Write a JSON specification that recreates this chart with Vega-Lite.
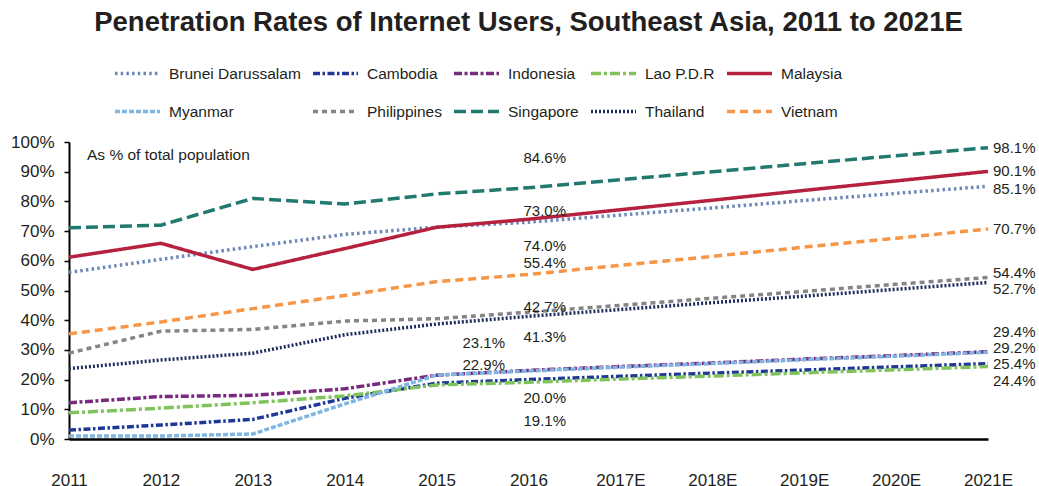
{
  "$schema": "https://vega.github.io/schema/vega-lite/v6.json",
  "width": 919,
  "height": 297,
  "autosize": {"type": "none"},
  "padding": {"left": 69, "top": 142, "right": 51, "bottom": 47},
  "background": "white",
  "title": {
    "text": "Penetration Rates of Internet Users, Southeast Asia, 2011 to 2021E",
    "fontSize": 27.5,
    "fontWeight": "bold",
    "font": "Liberation Sans",
    "color": "#231f20",
    "anchor": "middle",
    "frame": "group",
    "offset": 13
  },
  "config": {
    "font": "Liberation Sans",
    "view": {"stroke": null},
    "text": {"font": "Liberation Sans"}
  },
  "data": {
    "values": [
      {"country": "Brunei Darussalam", "year": "2011", "value": 56.1},
      {"country": "Brunei Darussalam", "year": "2012", "value": 60.5},
      {"country": "Brunei Darussalam", "year": "2013", "value": 64.8},
      {"country": "Brunei Darussalam", "year": "2014", "value": 68.9},
      {"country": "Brunei Darussalam", "year": "2015", "value": 71.3},
      {"country": "Brunei Darussalam", "year": "2016", "value": 73.0},
      {"country": "Brunei Darussalam", "year": "2017E", "value": 75.4},
      {"country": "Brunei Darussalam", "year": "2018E", "value": 77.8},
      {"country": "Brunei Darussalam", "year": "2019E", "value": 80.3},
      {"country": "Brunei Darussalam", "year": "2020E", "value": 82.7},
      {"country": "Brunei Darussalam", "year": "2021E", "value": 85.1},
      {"country": "Cambodia", "year": "2011", "value": 3.0},
      {"country": "Cambodia", "year": "2012", "value": 4.7},
      {"country": "Cambodia", "year": "2013", "value": 6.6},
      {"country": "Cambodia", "year": "2014", "value": 13.7},
      {"country": "Cambodia", "year": "2015", "value": 18.8},
      {"country": "Cambodia", "year": "2016", "value": 20.0},
      {"country": "Cambodia", "year": "2017E", "value": 21.1},
      {"country": "Cambodia", "year": "2018E", "value": 22.2},
      {"country": "Cambodia", "year": "2019E", "value": 23.2},
      {"country": "Cambodia", "year": "2020E", "value": 24.3},
      {"country": "Cambodia", "year": "2021E", "value": 25.4},
      {"country": "Indonesia", "year": "2011", "value": 12.2},
      {"country": "Indonesia", "year": "2012", "value": 14.3},
      {"country": "Indonesia", "year": "2013", "value": 14.7},
      {"country": "Indonesia", "year": "2014", "value": 16.9},
      {"country": "Indonesia", "year": "2015", "value": 21.5},
      {"country": "Indonesia", "year": "2016", "value": 23.1},
      {"country": "Indonesia", "year": "2017E", "value": 24.4},
      {"country": "Indonesia", "year": "2018E", "value": 25.6},
      {"country": "Indonesia", "year": "2019E", "value": 26.9},
      {"country": "Indonesia", "year": "2020E", "value": 28.1},
      {"country": "Indonesia", "year": "2021E", "value": 29.4},
      {"country": "Lao P.D.R", "year": "2011", "value": 8.8},
      {"country": "Lao P.D.R", "year": "2012", "value": 10.4},
      {"country": "Lao P.D.R", "year": "2013", "value": 12.2},
      {"country": "Lao P.D.R", "year": "2014", "value": 14.5},
      {"country": "Lao P.D.R", "year": "2015", "value": 18.2},
      {"country": "Lao P.D.R", "year": "2016", "value": 19.1},
      {"country": "Lao P.D.R", "year": "2017E", "value": 20.2},
      {"country": "Lao P.D.R", "year": "2018E", "value": 21.2},
      {"country": "Lao P.D.R", "year": "2019E", "value": 22.3},
      {"country": "Lao P.D.R", "year": "2020E", "value": 23.3},
      {"country": "Lao P.D.R", "year": "2021E", "value": 24.4},
      {"country": "Malaysia", "year": "2011", "value": 61.2},
      {"country": "Malaysia", "year": "2012", "value": 65.9},
      {"country": "Malaysia", "year": "2013", "value": 57.1},
      {"country": "Malaysia", "year": "2014", "value": 64.1},
      {"country": "Malaysia", "year": "2015", "value": 71.3},
      {"country": "Malaysia", "year": "2016", "value": 74.0},
      {"country": "Malaysia", "year": "2017E", "value": 77.2},
      {"country": "Malaysia", "year": "2018E", "value": 80.4},
      {"country": "Malaysia", "year": "2019E", "value": 83.7},
      {"country": "Malaysia", "year": "2020E", "value": 86.9},
      {"country": "Malaysia", "year": "2021E", "value": 90.1},
      {"country": "Myanmar", "year": "2011", "value": 1.0},
      {"country": "Myanmar", "year": "2012", "value": 1.0},
      {"country": "Myanmar", "year": "2013", "value": 1.7},
      {"country": "Myanmar", "year": "2014", "value": 11.8},
      {"country": "Myanmar", "year": "2015", "value": 21.5},
      {"country": "Myanmar", "year": "2016", "value": 22.9},
      {"country": "Myanmar", "year": "2017E", "value": 24.2},
      {"country": "Myanmar", "year": "2018E", "value": 25.4},
      {"country": "Myanmar", "year": "2019E", "value": 26.7},
      {"country": "Myanmar", "year": "2020E", "value": 27.9},
      {"country": "Myanmar", "year": "2021E", "value": 29.2},
      {"country": "Philippines", "year": "2011", "value": 28.9},
      {"country": "Philippines", "year": "2012", "value": 36.3},
      {"country": "Philippines", "year": "2013", "value": 36.9},
      {"country": "Philippines", "year": "2014", "value": 39.7},
      {"country": "Philippines", "year": "2015", "value": 40.5},
      {"country": "Philippines", "year": "2016", "value": 42.7},
      {"country": "Philippines", "year": "2017E", "value": 45.0},
      {"country": "Philippines", "year": "2018E", "value": 47.4},
      {"country": "Philippines", "year": "2019E", "value": 49.7},
      {"country": "Philippines", "year": "2020E", "value": 52.1},
      {"country": "Philippines", "year": "2021E", "value": 54.4},
      {"country": "Singapore", "year": "2011", "value": 71.1},
      {"country": "Singapore", "year": "2012", "value": 72.0},
      {"country": "Singapore", "year": "2013", "value": 81.0},
      {"country": "Singapore", "year": "2014", "value": 79.1},
      {"country": "Singapore", "year": "2015", "value": 82.5},
      {"country": "Singapore", "year": "2016", "value": 84.6},
      {"country": "Singapore", "year": "2017E", "value": 87.3},
      {"country": "Singapore", "year": "2018E", "value": 90.0},
      {"country": "Singapore", "year": "2019E", "value": 92.7},
      {"country": "Singapore", "year": "2020E", "value": 95.4},
      {"country": "Singapore", "year": "2021E", "value": 98.1},
      {"country": "Thailand", "year": "2011", "value": 23.7},
      {"country": "Thailand", "year": "2012", "value": 26.6},
      {"country": "Thailand", "year": "2013", "value": 28.9},
      {"country": "Thailand", "year": "2014", "value": 35.1},
      {"country": "Thailand", "year": "2015", "value": 38.7},
      {"country": "Thailand", "year": "2016", "value": 41.3},
      {"country": "Thailand", "year": "2017E", "value": 43.6},
      {"country": "Thailand", "year": "2018E", "value": 45.9},
      {"country": "Thailand", "year": "2019E", "value": 48.1},
      {"country": "Thailand", "year": "2020E", "value": 50.4},
      {"country": "Thailand", "year": "2021E", "value": 52.7},
      {"country": "Vietnam", "year": "2011", "value": 35.4},
      {"country": "Vietnam", "year": "2012", "value": 39.4},
      {"country": "Vietnam", "year": "2013", "value": 43.9},
      {"country": "Vietnam", "year": "2014", "value": 48.3},
      {"country": "Vietnam", "year": "2015", "value": 53.0},
      {"country": "Vietnam", "year": "2016", "value": 55.4},
      {"country": "Vietnam", "year": "2017E", "value": 58.5},
      {"country": "Vietnam", "year": "2018E", "value": 61.5},
      {"country": "Vietnam", "year": "2019E", "value": 64.6},
      {"country": "Vietnam", "year": "2020E", "value": 67.6},
      {"country": "Vietnam", "year": "2021E", "value": 70.7}
    ]
  },
  "encoding": {
    "x": {
      "field": "year",
      "type": "ordinal",
      "scale": {"type": "point", "padding": 0},
      "axis": {
        "title": null,
        "labelAngle": 0,
        "ticks": false,
        "domainColor": "#000000",
        "domainWidth": 2.5,
        "labelFontSize": 17,
        "labelColor": "#231f20",
        "labelPadding": 33,
        "labelFont": "Liberation Sans"
      }
    },
    "y": {
      "field": "value",
      "type": "quantitative",
      "scale": {"domain": [0, 100], "nice": false, "zero": true},
      "axis": {
        "title": null,
        "values": [0, 10, 20, 30, 40, 50, 60, 70, 80, 90, 100],
        "labelExpr": "datum.value + '%'",
        "grid": false,
        "domainColor": "#000000",
        "domainWidth": 2,
        "tickColor": "#000000",
        "tickSize": 5,
        "tickWidth": 1.5,
        "labelFontSize": 17,
        "labelColor": "#231f20",
        "labelPadding": 10,
        "labelFont": "Liberation Sans"
      }
    }
  },
  "layer": [
    {
      "mark": {"type": "line", "strokeWidth": 3.5, "strokeCap": "butt"},
      "encoding": {
        "color": {
          "field": "country",
          "type": "nominal",
          "scale": {
            "domain": ["Brunei Darussalam", "Cambodia", "Indonesia", "Lao P.D.R", "Malaysia", "Myanmar", "Philippines", "Singapore", "Thailand", "Vietnam"],
            "range": ["#6b88b8", "#1f3897", "#7a2a7c", "#7fc35b", "#b5213f", "#7fb5e3", "#858585", "#22796f", "#1c2d5c", "#f79646"]
          },
          "legend": {
            "title": null,
            "orient": "none",
            "legendX": 44,
            "legendY": -93,
            "direction": "horizontal",
            "columns": 5,
            "symbolType": "stroke",
            "symbolSize": 2025,
            "symbolStrokeWidth": 3.5,
            "labelFontSize": 15.5,
            "labelColor": "#231f20",
            "labelOffset": 7,
            "columnPadding": 5,
            "rowPadding": 5,
            "labelFont": "Liberation Sans"
          }
        },
        "strokeDash": {
          "field": "country",
          "type": "nominal",
          "scale": {
            "domain": ["Brunei Darussalam", "Cambodia", "Indonesia", "Lao P.D.R", "Malaysia", "Myanmar", "Philippines", "Singapore", "Thailand", "Vietnam"],
            "range": [[2.5, 3.2], [7, 2.5, 2.5, 2.5], [8, 2.5, 3, 2.5], [10, 3, 3, 3], [1, 0], [5, 2], [5, 4], [12, 5], [2, 2], [8, 5]]
          },
          "legend": {
            "title": null,
            "orient": "none",
            "legendX": 44,
            "legendY": -93,
            "direction": "horizontal",
            "columns": 5,
            "symbolType": "stroke",
            "symbolSize": 2025,
            "symbolStrokeWidth": 3.5,
            "labelFontSize": 15.5,
            "labelColor": "#231f20",
            "labelOffset": 7,
            "columnPadding": 5,
            "rowPadding": 5,
            "labelFont": "Liberation Sans"
          }
        }
      }
    },
    {
      "transform": [{"filter": "datum.year == '2011' && datum.country == 'Brunei Darussalam'"}],
      "mark": {"type": "text", "align": "left", "baseline": "middle", "dx": 18, "dy": 13, "fontSize": 15.5, "color": "#231f20"},
      "encoding": {
        "y": {"datum": 100},
        "text": {"value": "As % of total population"}
      }
    },
    {
      "transform": [{"filter": "datum.year == '2016' && datum.country == 'Singapore'"}, {"calculate": "format(datum.value, '.1f') + '%'", "as": "label"}],
      "mark": {"type": "text", "align": "left", "baseline": "middle", "dx": -5, "dy": -30, "fontSize": 15, "color": "#231f20"},
      "encoding": {"text": {"field": "label"}}
    },
    {
      "transform": [{"filter": "datum.year == '2016' && (datum.country == 'Brunei Darussalam' || datum.country == 'Vietnam')"}, {"calculate": "format(datum.value, '.1f') + '%'", "as": "label"}],
      "mark": {"type": "text", "align": "left", "baseline": "middle", "dx": -5, "dy": -11, "fontSize": 15, "color": "#231f20"},
      "encoding": {"text": {"field": "label"}}
    },
    {
      "transform": [{"filter": "datum.year == '2016' && datum.country == 'Malaysia'"}, {"calculate": "format(datum.value, '.1f') + '%'", "as": "label"}],
      "mark": {"type": "text", "align": "left", "baseline": "middle", "dx": -5, "dy": 27, "fontSize": 15, "color": "#231f20"},
      "encoding": {"text": {"field": "label"}}
    },
    {
      "transform": [{"filter": "datum.year == '2016' && datum.country == 'Philippines'"}, {"calculate": "format(datum.value, '.1f') + '%'", "as": "label"}],
      "mark": {"type": "text", "align": "left", "baseline": "middle", "dx": -5, "dy": -5, "fontSize": 15, "color": "#231f20"},
      "encoding": {"text": {"field": "label"}}
    },
    {
      "transform": [{"filter": "datum.year == '2016' && datum.country == 'Thailand'"}, {"calculate": "format(datum.value, '.1f') + '%'", "as": "label"}],
      "mark": {"type": "text", "align": "left", "baseline": "middle", "dx": -5, "dy": 21, "fontSize": 15, "color": "#231f20"},
      "encoding": {"text": {"field": "label"}}
    },
    {
      "transform": [{"filter": "datum.year == '2016' && datum.country == 'Cambodia'"}, {"calculate": "format(datum.value, '.1f') + '%'", "as": "label"}],
      "mark": {"type": "text", "align": "left", "baseline": "middle", "dx": -5, "dy": 18, "fontSize": 15, "color": "#231f20"},
      "encoding": {"text": {"field": "label"}}
    },
    {
      "transform": [{"filter": "datum.year == '2016' && datum.country == 'Lao P.D.R'"}, {"calculate": "format(datum.value, '.1f') + '%'", "as": "label"}],
      "mark": {"type": "text", "align": "left", "baseline": "middle", "dx": -5, "dy": 39, "fontSize": 15, "color": "#231f20"},
      "encoding": {"text": {"field": "label"}}
    },
    {
      "transform": [{"filter": "datum.year == '2016' && datum.country == 'Indonesia'"}, {"calculate": "format(datum.value, '.1f') + '%'", "as": "label"}],
      "mark": {"type": "text", "align": "left", "baseline": "middle", "dx": -66, "dy": -27, "fontSize": 15, "color": "#231f20"},
      "encoding": {"text": {"field": "label"}}
    },
    {
      "transform": [{"filter": "datum.year == '2016' && datum.country == 'Myanmar'"}, {"calculate": "format(datum.value, '.1f') + '%'", "as": "label"}],
      "mark": {"type": "text", "align": "left", "baseline": "middle", "dx": -66, "dy": -6, "fontSize": 15, "color": "#231f20"},
      "encoding": {"text": {"field": "label"}}
    },
    {
      "transform": [{"filter": "datum.year == '2021E' && (datum.country == 'Singapore' || datum.country == 'Malaysia' || datum.country == 'Vietnam' || datum.country == 'Cambodia')"}, {"calculate": "format(datum.value, '.1f') + '%'", "as": "label"}],
      "mark": {"type": "text", "align": "left", "baseline": "middle", "dx": 5, "dy": 0, "fontSize": 15, "color": "#231f20"},
      "encoding": {"text": {"field": "label"}}
    },
    {
      "transform": [{"filter": "datum.year == '2021E' && datum.country == 'Brunei Darussalam'"}, {"calculate": "format(datum.value, '.1f') + '%'", "as": "label"}],
      "mark": {"type": "text", "align": "left", "baseline": "middle", "dx": 5, "dy": 3, "fontSize": 15, "color": "#231f20"},
      "encoding": {"text": {"field": "label"}}
    },
    {
      "transform": [{"filter": "datum.year == '2021E' && (datum.country == 'Philippines' || datum.country == 'Myanmar')"}, {"calculate": "format(datum.value, '.1f') + '%'", "as": "label"}],
      "mark": {"type": "text", "align": "left", "baseline": "middle", "dx": 5, "dy": -4, "fontSize": 15, "color": "#231f20"},
      "encoding": {"text": {"field": "label"}}
    },
    {
      "transform": [{"filter": "datum.year == '2021E' && datum.country == 'Thailand'"}, {"calculate": "format(datum.value, '.1f') + '%'", "as": "label"}],
      "mark": {"type": "text", "align": "left", "baseline": "middle", "dx": 5, "dy": 6.5, "fontSize": 15, "color": "#231f20"},
      "encoding": {"text": {"field": "label"}}
    },
    {
      "transform": [{"filter": "datum.year == '2021E' && datum.country == 'Indonesia'"}, {"calculate": "format(datum.value, '.1f') + '%'", "as": "label"}],
      "mark": {"type": "text", "align": "left", "baseline": "middle", "dx": 5, "dy": -20, "fontSize": 15, "color": "#231f20"},
      "encoding": {"text": {"field": "label"}}
    },
    {
      "transform": [{"filter": "datum.year == '2021E' && datum.country == 'Lao P.D.R'"}, {"calculate": "format(datum.value, '.1f') + '%'", "as": "label"}],
      "mark": {"type": "text", "align": "left", "baseline": "middle", "dx": 5, "dy": 14, "fontSize": 15, "color": "#231f20"},
      "encoding": {"text": {"field": "label"}}
    }
  ]
}
